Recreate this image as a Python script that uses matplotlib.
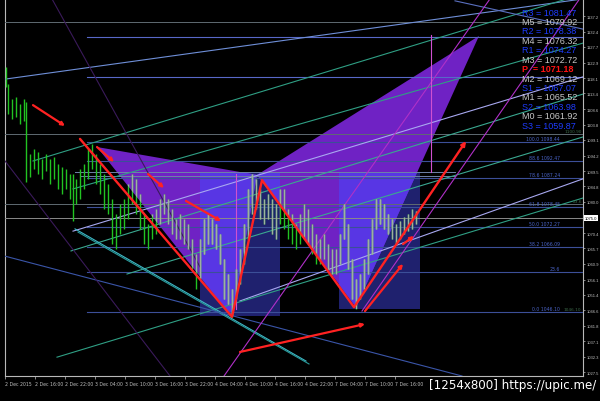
import matplotlib
matplotlib.use("Agg")
import matplotlib.pyplot as plt
from matplotlib.patches import Polygon, Rectangle
from matplotlib.transforms import blended_transform_factory

# ---------------- data ----------------
bar_t = [6, 8, 12, 16, 20, 24, 26, 30, 34, 38, 42, 46, 50, 54, 58, 62, 66, 70, 73, 76,
         80, 84, 88, 92, 96, 100, 104, 108, 112, 116, 120, 124, 128, 132, 136, 140, 144, 148,
         152, 156, 160, 164, 168, 172, 176, 180, 184, 188, 192, 196, 200, 204, 208, 212, 216,
         220, 224, 228, 232, 236, 240, 244, 248, 252, 256, 260, 264, 268, 272, 276, 280, 284,
         288, 292, 296, 300, 304, 308, 312, 316, 320, 324, 328, 332, 336, 340, 344, 348, 352,
         356, 360, 364, 368, 372, 376, 380, 384, 388, 392, 396, 400, 404, 408, 412, 416]
bar_high = [1121.5, 1116.3, 1111.7, 1112.3, 1110.1, 1111.7, 1110.8, 1094.7, 1096.3, 1095.4,
            1093.2, 1094.7, 1093.2, 1093.8, 1091.7, 1090.7, 1090.1, 1088.6, 1088.6, 1087.0,
            1090.1, 1091.7, 1096.3, 1097.8, 1094.7, 1091.7, 1088.6, 1085.5, 1080.9, 1076.3,
            1079.4, 1080.9, 1085.5, 1088.6, 1087.0, 1082.4, 1076.3, 1073.2, 1076.3, 1077.8,
            1080.9, 1082.4, 1080.9, 1077.8, 1074.7, 1076.3, 1074.7, 1073.2, 1068.6, 1064.0,
            1068.6, 1074.7, 1076.3, 1074.7, 1073.2, 1070.1, 1062.4, 1057.8, 1053.2, 1059.3,
            1065.5, 1073.2, 1084.0, 1088.6, 1087.0, 1084.0, 1080.9, 1082.4, 1080.9, 1079.4,
            1084.0, 1084.0, 1077.8, 1076.3, 1073.2, 1076.3, 1079.4, 1077.8, 1073.2, 1070.1,
            1068.6, 1070.1, 1067.0, 1065.5, 1065.5, 1070.1, 1079.4, 1073.2, 1062.4, 1056.3,
            1057.8, 1062.4, 1068.6, 1074.7, 1080.9, 1080.9, 1079.4, 1076.3, 1074.7, 1073.2,
            1074.1, 1075.3, 1076.3, 1077.8, 1077.2]
bar_low = [1115.4, 1107.1, 1105.5, 1106.1, 1104.0, 1104.9, 1086.1, 1087.7, 1090.1, 1088.6,
           1087.0, 1089.5, 1085.5, 1087.0, 1084.0, 1082.4, 1084.0, 1080.9, 1074.1, 1079.4,
           1080.9, 1084.0, 1087.0, 1090.1, 1085.5, 1082.4, 1077.8, 1076.3, 1067.0, 1065.5,
           1070.1, 1071.7, 1074.7, 1079.4, 1076.3, 1071.7, 1067.0, 1065.5, 1068.6, 1070.1,
           1073.2, 1076.3, 1073.2, 1070.1, 1068.6, 1068.6, 1067.0, 1065.5, 1059.3, 1053.2,
           1056.3, 1064.0, 1067.0, 1067.0, 1065.5, 1060.9, 1050.1, 1048.6, 1044.6, 1050.1,
           1054.7, 1060.9, 1068.6, 1076.3, 1077.8, 1074.7, 1073.2, 1074.7, 1070.1, 1068.6,
           1073.2, 1071.7, 1068.6, 1067.0, 1065.5, 1067.0, 1068.6, 1067.0, 1064.0, 1060.9,
           1060.9, 1062.4, 1059.3, 1057.8, 1057.8, 1060.9, 1068.6, 1059.3, 1050.1, 1047.0,
           1050.1, 1053.2, 1057.8, 1064.0, 1071.7, 1073.2, 1071.7, 1070.1, 1068.6, 1067.0,
           1068.6, 1070.1, 1071.0, 1071.7, 1073.2]

# harmonic pattern points (time, price)
tri1 = [(97, 1096.9), (232, 1044.6), (257, 1088.3)]
tri2 = [(257, 1088.3), (356, 1047.6), (479, 1131.1)]
rects = [(200, 280, 1044.9, 1089.2), (339, 420, 1047.0, 1089.2)]
zigzag = [(80, 1099.4), (232, 1044.6), (262, 1086.7), (354, 1047.6)]
zigzag_end = (466, 1098.7)
red_arrows = [((33, 1109.8), (65, 1103.4)), ((97, 1096.9), (114, 1092.3)),
              ((148, 1088.6), (164, 1084.3)), ((186, 1080.3), (221, 1074.1)),
              ((365, 1046.4), (403, 1060.9)), ((403, 1067.0), (414, 1069.5)),
              ((240, 1033.8), (365, 1042.4))]

# fibonacci levels
fib_pct = ["161.8", "138.2", "100.0", "88.6", "78.6", "61.8", "50.0", "38.2", "23.6", "0.0"]
fib_val = [1130.79, 1118.43, 1098.44, 1092.47, 1087.24, 1078.45, 1072.27, 1066.09, 1058.45, 1046.10]
hlines_full = [1135.4, 1100.9, 1079.35]
hlines_part = [(75, 455, 1089.2), (80, 455, 1088.0)]
current_price = 1075.03

# trend / channel lines ((t0, p0), (t1, p1), colour)
rising = [((5, 1117.8), (583, 1142.5), "#6f8fd8"),
          ((33, 1092.6), (583, 1144.0), "#2f9f84"),
          ((73, 1084.0), (583, 1128.9), "#2f9f84"),
          ((73, 1071.0), (583, 1118.5), "#a8a8f0"),
          ((71, 1064.9), (583, 1113.2), "#3aa890"),
          ((127, 1057.8), (583, 1100.0), "#3aa890"),
          ((240, 1049.5), (583, 1087.1), "#a8a8f0"),
          ((57, 1032.2), (583, 1081.2), "#2f9f84")]
falling = [((75, 1071.7), (306, 1031.0), "#3fb8c8"),
           ((78, 1070.7), (309, 1030.1), "#2a9a9a"),
           ((5, 1063.3), (462, 1026.4), "#3a55a8"),
           ((455, 1141.9), (583, 1133.2), "#5a70c0"),
           ((52, 1142.5), (200, 1060.0), "#3a1a5a"),
           ((5, 1092.6), (170, 1026.4), "#3a1a5a")]
magenta = [((224, 1026.4), (490, 1142.5)), ((362, 1046.4), (583, 1144.0))]
verticals = [(236, 1047.0, 1088.6), (431, 1089.2, 1131.4)]

pivot_names = ["R3", "M5", "R2", "M4", "R1", "M3", "P ", "M2", "S1", "M1", "S2", "M0", "S3"]
pivot_values = [1081.47, 1079.92, 1078.38, 1076.32, 1074.27, 1072.72, 1071.18,
                1069.12, 1067.07, 1065.52, 1063.98, 1061.92, 1059.87]

ytick_vals = [1137.2, 1132.4, 1127.7, 1122.9, 1118.1, 1113.4, 1108.6, 1103.8, 1099.1, 1094.2,
              1089.5, 1084.8, 1080.0, 1070.4, 1065.7, 1060.9, 1056.1, 1051.4, 1046.6, 1041.8,
              1037.1, 1032.3, 1027.5]
xtick_t = [5, 35, 65, 95, 125, 155, 185, 215, 245, 275, 305, 335, 365, 395]
xtick_labels = ["2 Dec 2015", "2 Dec 16:00", "2 Dec 22:00", "3 Dec 04:00", "3 Dec 10:00",
                "3 Dec 16:00", "3 Dec 22:00", "4 Dec 04:00", "4 Dec 10:00", "4 Dec 16:00",
                "4 Dec 22:00", "7 Dec 04:00", "7 Dec 10:00", "7 Dec 16:00"]
header = "\u25bc XAUUSD,M15  1075.15 1075.20 1074.95 1075.03"

# ---------------- drawing ----------------
BG = "black"
fig = plt.figure(figsize=(6.0, 4.02), dpi=100, facecolor=BG)
ax = fig.add_axes([5 / 600, 25 / 402, 578 / 600, 377 / 402], facecolor=BG)
ax.set_xlim(5, 583)
ax.set_ylim(1026.4, 1142.47)

NAVY = "#1f216e"
PURPLE = "#6f22c4"
BRIGHT = "#5836e4"

shape_patches = []
for (x0, x1, y0, y1) in rects:
    r = Rectangle((x0, y0), x1 - x0, y1 - y0, facecolor=NAVY, edgecolor="none", zorder=1)
    ax.add_patch(r)
    shape_patches.append(r)
tri_patches = []
for tri in (tri1, tri2):
    p = Polygon(tri, closed=True, facecolor=PURPLE, edgecolor="none", zorder=2)
    ax.add_patch(p)
    tri_patches.append(p)
    shape_patches.append(p)
for tp in tri_patches:
    for (x0, x1, y0, y1) in rects:
        r = Rectangle((x0, y0), x1 - x0, y1 - y0, facecolor=BRIGHT, edgecolor="none", zorder=3)
        ax.add_patch(r)
        r.set_clip_path(tp)

# horizontal lines
for v in hlines_full:
    ax.axhline(v, color="#5f6b72", lw=0.7, zorder=4)
ax.axhline(current_price, color="#8a8a8a", lw=0.7, zorder=4)
for (x0, x1, v) in hlines_part:
    ax.plot([x0, x1], [v, v], color="#6e82a8", lw=0.7, zorder=4)
for i, (pct, v) in enumerate(zip(fib_pct, fib_val)):
    col = "#5868c8" if i < 2 else "#3c4f98"
    ax.plot([87, 583], [v, v], color=col, lw=0.8, zorder=4)
    if i >= 2:  # upper extension labels are hidden behind the pivot panel
        lab = pct if pct == "23.6" else f"{pct} {v:.2f}"
        ax.text(560, v + 0.4, lab, color="#4a64c8", fontsize=3.3, ha="right", va="bottom",
                zorder=7)
ax.text(563, fib_val[-1] + 0.4, f"{fib_val[-1]:.2f}", color="#3d6b4a", fontsize=3.1,
        ha="left", va="bottom", zorder=7)
ax.text(582, hlines_full[1] + 0.4, f"{hlines_full[1]:.2f}", color="#3d6b4a", fontsize=3.1,
        ha="right", va="bottom", zorder=7)
ax.text(582, hlines_full[2] + 0.4, "23.6", color="#3d6b4a", fontsize=3.1,
        ha="right", va="bottom", zorder=7)

# sloped lines
for (a, b, c) in rising + falling:
    ax.plot([a[0], b[0]], [a[1], b[1]], color=c, lw=0.8, zorder=4)
for (a, b) in magenta:
    ax.plot([a[0], b[0]], [a[1], b[1]], color="#b030c8", lw=0.8, zorder=4)
for (t, lo, hi) in verticals:
    ax.plot([t, t], [lo, hi], color="#d050d0", lw=0.8, zorder=4)

# price bars: green on black, greyish where over pattern shapes
ax.vlines(bar_t, bar_low, bar_high, color="#22c322", lw=1.0, zorder=5)
for sp in shape_patches:
    vc = ax.vlines(bar_t, bar_low, bar_high, color="#9fb09f", lw=1.0, zorder=5.5)
    vc.set_clip_path(sp)

# red pattern lines and arrows
RED = "#ff2222"
ax.plot([p[0] for p in zigzag], [p[1] for p in zigzag], color=RED, lw=1.7, zorder=6,
        solid_capstyle="round")
ax.annotate("", xy=zigzag_end, xytext=zigzag[-1], zorder=6,
            arrowprops=dict(arrowstyle="-|>", color=RED, lw=1.7, mutation_scale=6,
                            shrinkA=0, shrinkB=0))
for (s, e) in red_arrows:
    ax.annotate("", xy=e, xytext=s, zorder=6,
                arrowprops=dict(arrowstyle="-|>", color=RED, lw=1.6, mutation_scale=5,
                                shrinkA=0, shrinkB=0))

# pivot labels
for i, (n, v) in enumerate(zip(pivot_names, pivot_values)):
    if n.startswith("P"):
        col, w = "#ff1414", "bold"
    elif n.startswith("M"):
        col, w = "#c8c8c8", "normal"
    else:
        col, w = "#1e3cff", "normal"
    ya = 1 - (13 + i * 9.43) / 377
    ax.text(522, ya, f"{n} = {v:.2f}", transform=blended_transform_factory(ax.transData, ax.transAxes),
            color=col, fontsize=6.5, fontweight=w, family="Liberation Sans",
            ha="left", va="center", zorder=8)

# header
ax.text(3, 0.99, header, transform=ax.transAxes, color="#c0c0c0", fontsize=3.5,
        ha="left", va="top", zorder=8)

# axes styling
ax.spines["top"].set_visible(False)
for s in ("left", "right", "bottom"):
    ax.spines[s].set_color("#b8b8b8")
    ax.spines[s].set_linewidth(0.8)
ax.yaxis.tick_right()
ax.set_yticks(ytick_vals)
ax.set_yticklabels([f"{v:.1f}" for v in ytick_vals], family="Liberation Sans")
ax.tick_params(axis="y", colors="#c0c0c0", labelsize=3.0, length=1.5, width=0.5, pad=1.0)
ax.yaxis.get_offset_text().set_visible(False)
ax.xaxis.get_offset_text().set_visible(False)
ax.set_xticks(xtick_t)
ax.set_xticklabels(xtick_labels, ha="left")
ax.tick_params(axis="x", colors="#c0c0c0", labelsize=3.3, length=2, width=0.5, pad=1.5)

# current price box
ax.text(1.003, current_price, f"{current_price:.1f}",
        transform=blended_transform_factory(ax.transAxes, ax.transData),
        color="black", fontsize=3.0, family="Liberation Sans", ha="left", va="center",
        zorder=9, clip_on=False,
        bbox=dict(boxstyle="square,pad=0.15", facecolor="white", edgecolor="none"))

fig.text(0.993, 0.042, "[1254x800] https://upic.me/", color="white", fontsize=8.6,
         ha="right", va="center")

fig.savefig("out.png", dpi=100, facecolor=BG)
